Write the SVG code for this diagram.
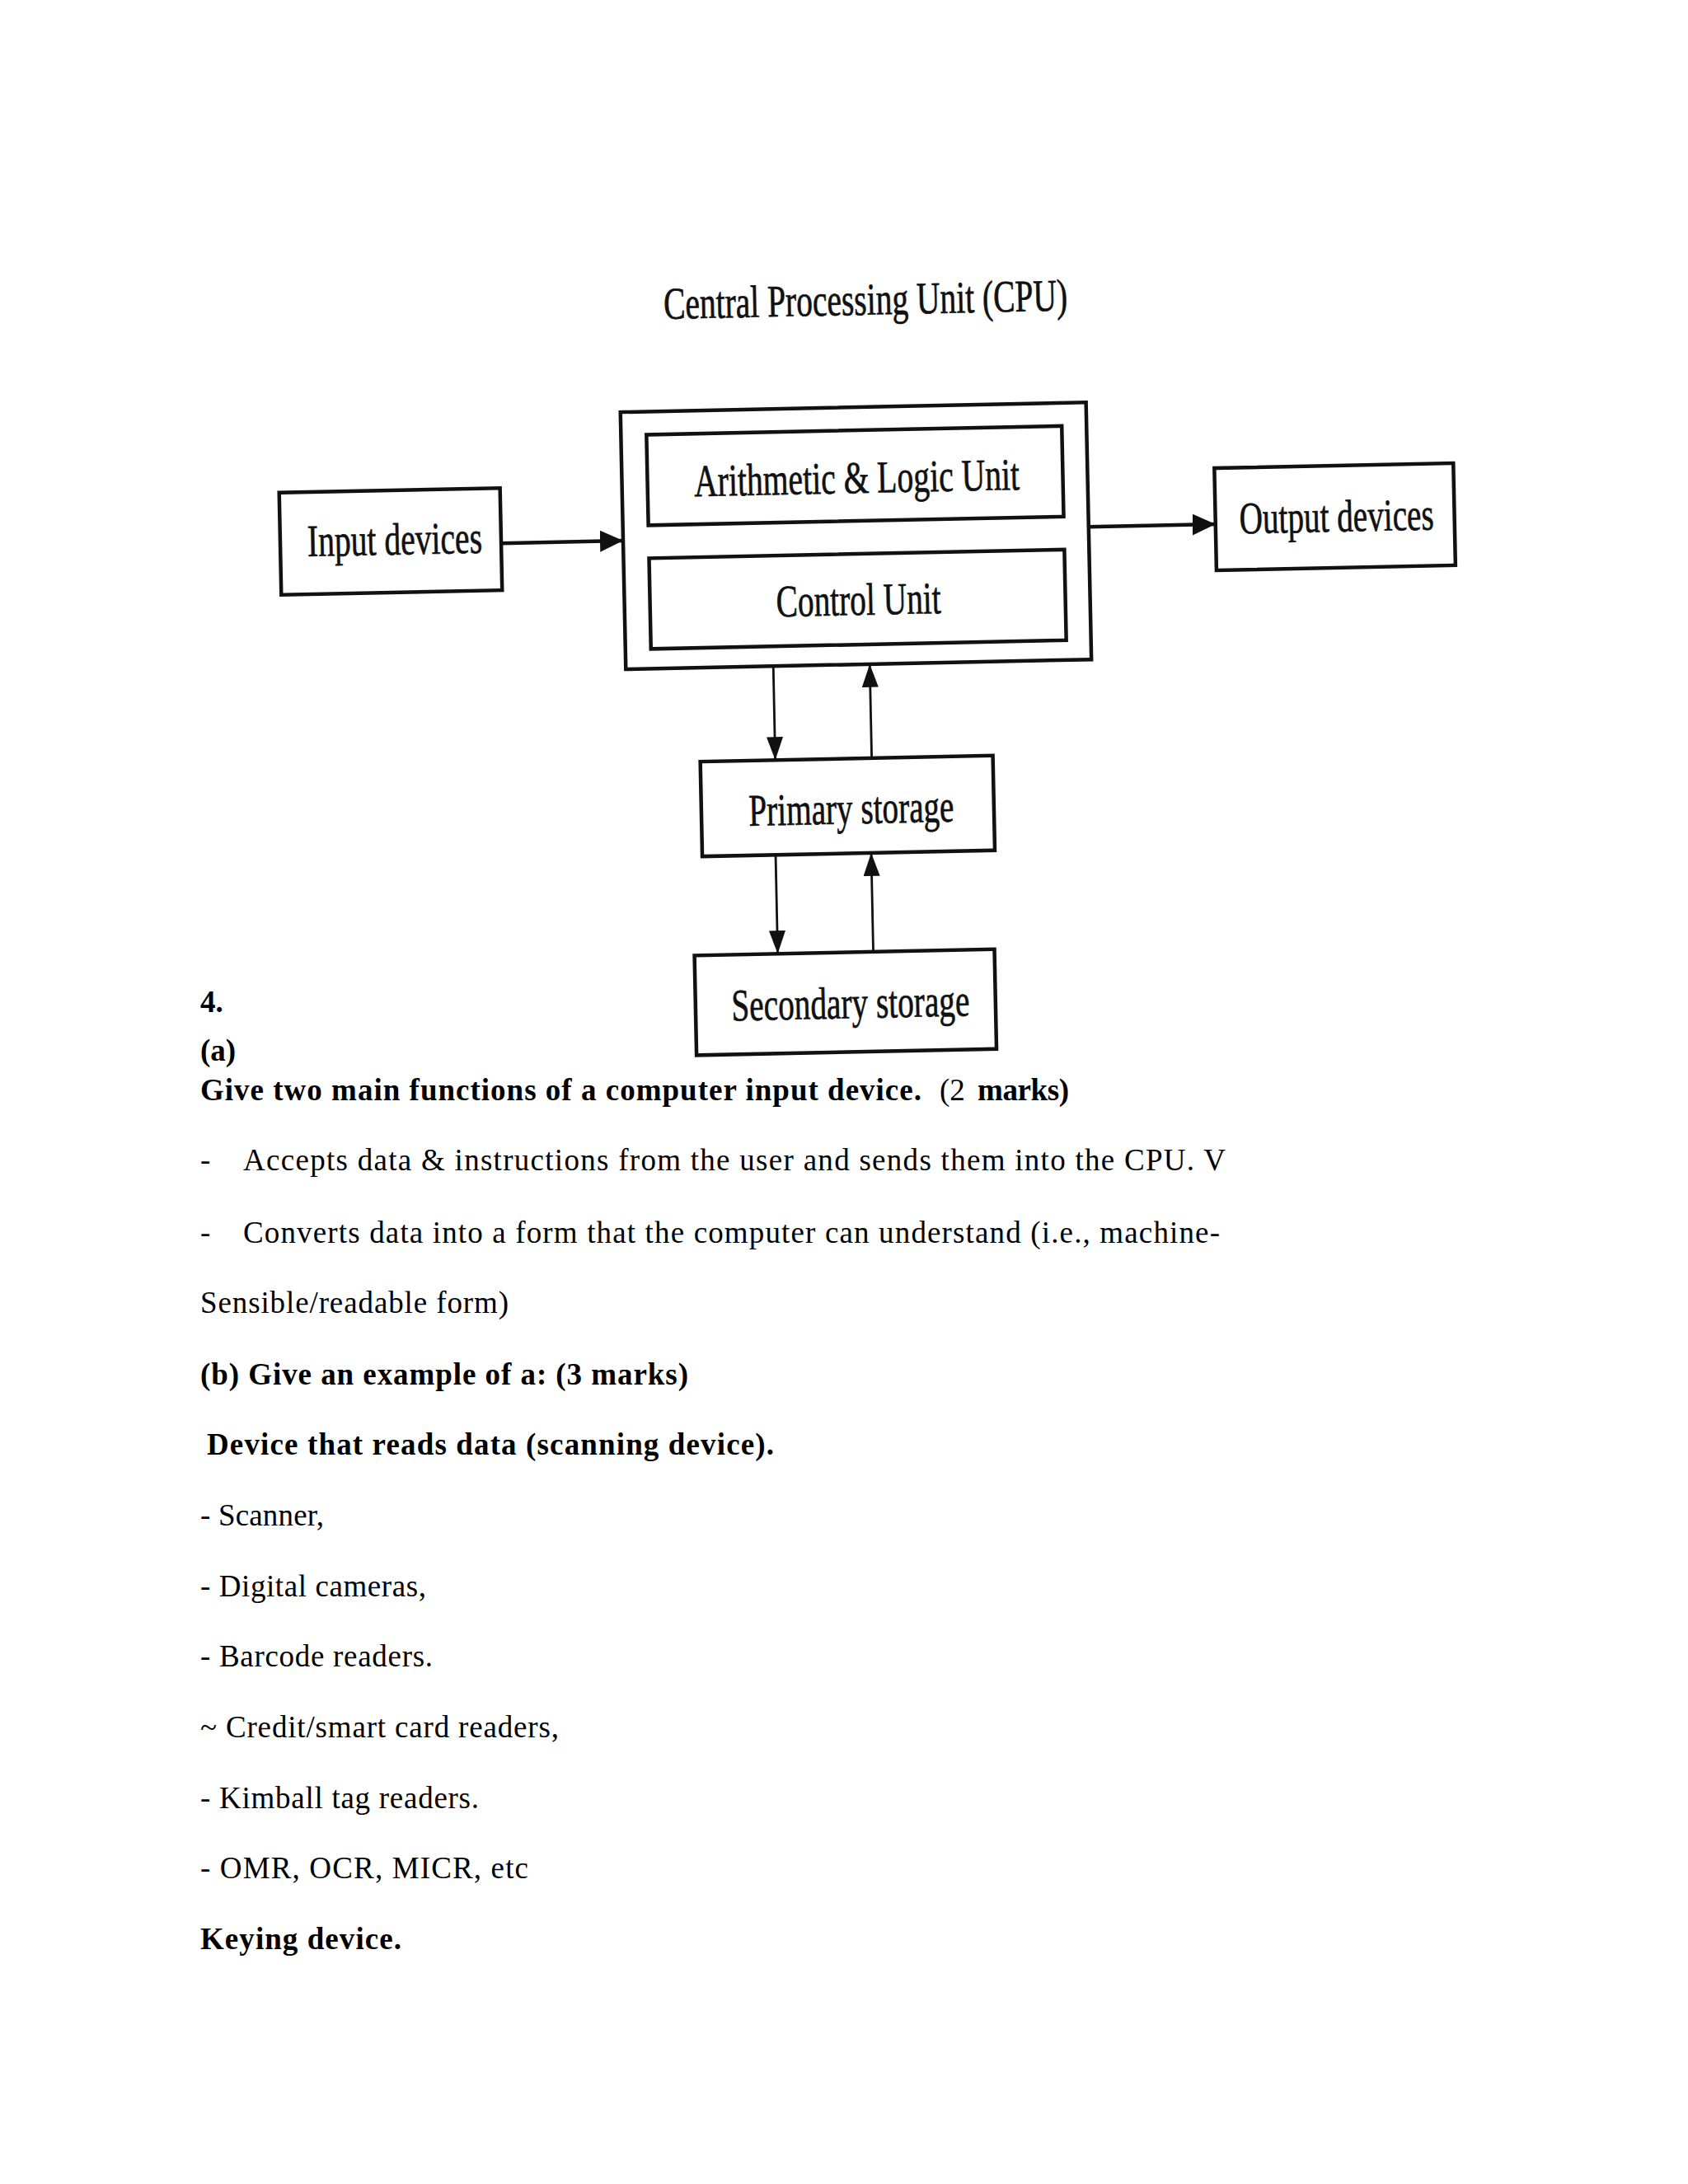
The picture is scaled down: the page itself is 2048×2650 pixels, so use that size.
<svg xmlns="http://www.w3.org/2000/svg" width="2048" height="2650" viewBox="0 0 2048 2650">
<style>
.box{fill:none;stroke:#111;stroke-width:4.5}
.dl{font-family:"Liberation Serif","Times New Roman",serif;font-size:55px;fill:#111;stroke:#111;stroke-width:0.7;text-anchor:middle}
.conn{stroke:#111;fill:none}
.h{stroke-width:4.5}
.v{stroke-width:2.8}
.t{font-family:"Liberation Serif","Times New Roman",serif;font-size:37px;fill:#000}
.b{font-weight:bold}
</style>
<defs>
<marker id="ah" markerUnits="userSpaceOnUse" markerWidth="28" markerHeight="26" refX="28" refY="13" orient="auto">
<path d="M0,0 L28,13 L0,26 z" fill="#111"/>
</marker>
<marker id="av" markerUnits="userSpaceOnUse" markerWidth="28" markerHeight="20" refX="28" refY="10" orient="auto">
<path d="M0,0 L28,10 L0,20 z" fill="#111"/>
</marker>
</defs>
<rect x="0" y="0" width="2048" height="2650" fill="#fff"/>
<g transform="rotate(-1.2 1046 700)">
<text id="title" class="dl" x="1057" y="382" textLength="490" lengthAdjust="spacingAndGlyphs">Central Processing Unit (CPU)</text>
<g id="input">
<rect class="box" x="341" y="583" width="268" height="124"/>
<text class="dl" x="480" y="661" textLength="212" lengthAdjust="spacingAndGlyphs">Input devices</text>
</g>
<g id="cpu">
<rect class="box" x="757" y="494" width="565" height="312"/>
</g>
<g id="alu">
<rect class="box" x="788" y="522" width="504" height="110"/>
<text class="dl" x="1042" y="598" textLength="395" lengthAdjust="spacingAndGlyphs">Arithmetic &amp; Logic Unit</text>
</g>
<g id="cu">
<rect class="box" x="788" y="672" width="504" height="110"/>
<text class="dl" x="1041" y="746" textLength="200" lengthAdjust="spacingAndGlyphs">Control Unit</text>
</g>
<g id="output">
<rect class="box" x="1476" y="577" width="290" height="124"/>
<text class="dl" x="1623" y="657" textLength="236" lengthAdjust="spacingAndGlyphs">Output devices</text>
</g>
<g id="primary">
<rect class="box" x="845" y="920" width="355" height="115"/>
<text class="dl" x="1027" y="999" textLength="249" lengthAdjust="spacingAndGlyphs">Primary storage</text>
</g>
<g id="secondary">
<rect class="box" x="833" y="1155" width="364" height="121"/>
<text class="dl" x="1021" y="1235" textLength="289" lengthAdjust="spacingAndGlyphs">Secondary storage</text>
</g>
<g id="connectors">
<line class="conn h" x1="609" y1="650" x2="757" y2="650" marker-end="url(#ah)"/>
<line class="conn h" x1="1322" y1="645" x2="1476" y2="645" marker-end="url(#ah)"/>
<line class="conn v" x1="936" y1="806" x2="936" y2="920" marker-end="url(#av)"/>
<line class="conn v" x1="1053" y1="920" x2="1053" y2="806" marker-end="url(#av)"/>
<line class="conn v" x1="934" y1="1035" x2="934" y2="1155" marker-end="url(#av)"/>
<line class="conn v" x1="1050" y1="1155" x2="1050" y2="1035" marker-end="url(#av)"/>
</g>
</g>
<g id="body">
<text class="t b" x="243" y="1228">4.</text>
<text class="t b" x="243" y="1287">(a)</text>
<text class="t b" x="243" y="1335" textLength="875" lengthAdjust="spacing">Give two main functions of a computer input device.</text>
<text class="t" x="1140" y="1335">(2</text>
<text class="t b" x="1186" y="1335" textLength="111" lengthAdjust="spacing">marks)</text>
<text class="t" x="243" y="1420">-</text>
<text class="t" x="295" y="1420" textLength="1192" lengthAdjust="spacing">Accepts data &amp; instructions from the user and sends them into the CPU. V</text>
<text class="t" x="243" y="1508">-</text>
<text class="t" x="295" y="1508" textLength="1185" lengthAdjust="spacing">Converts data into a form that the computer can understand (i.e., machine-</text>
<text class="t" x="243" y="1593" textLength="374" lengthAdjust="spacing">Sensible/readable form)</text>
<text class="t b" x="243" y="1680" textLength="592" lengthAdjust="spacing">(b) Give an example of a: (3 marks)</text>
<text class="t b" x="251" y="1765" textLength="688" lengthAdjust="spacing">Device that reads data (scanning device).</text>
<text class="t" x="243" y="1851" textLength="150" lengthAdjust="spacing">- Scanner,</text>
<text class="t" x="243" y="1937" textLength="274" lengthAdjust="spacing">- Digital cameras,</text>
<text class="t" x="243" y="2022" textLength="282" lengthAdjust="spacing">- Barcode readers.</text>
<text class="t" x="243" y="2108" textLength="435" lengthAdjust="spacing">~ Credit/smart card readers,</text>
<text class="t" x="243" y="2194" textLength="338" lengthAdjust="spacing">- Kimball tag readers.</text>
<text class="t" x="243" y="2279" textLength="398" lengthAdjust="spacing">- OMR, OCR, MICR, etc</text>
<text class="t b" x="243" y="2365" textLength="244" lengthAdjust="spacing">Keying device.</text>
</g>
</svg>
